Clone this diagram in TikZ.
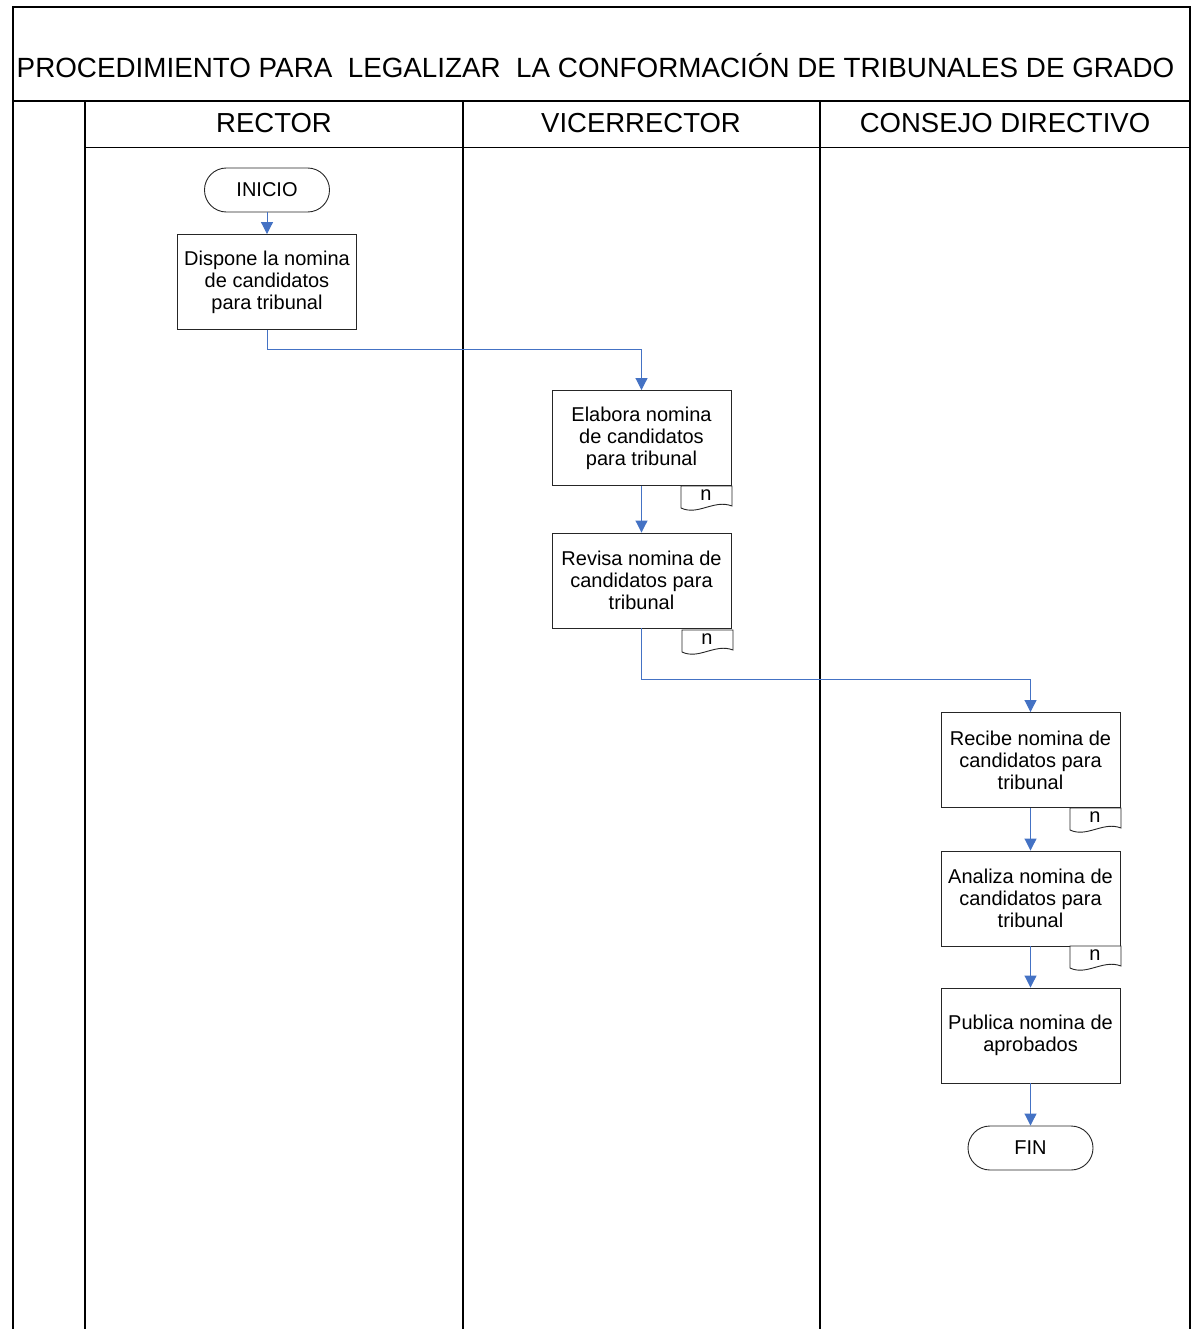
\documentclass[tikz,border=0pt]{standalone}
\usepackage{fontspec}
\setmainfont{Liberation Sans}
\usetikzlibrary{arrows.meta}
\definecolor{flowblue}{HTML}{4472C4}
\begin{document}
\begin{tikzpicture}[x=1pt,y=-1pt,
  lane/.style={line width=1.3pt, draw=black},
  proc/.style={draw=black!85, line width=0.9pt, minimum width=179pt, minimum height=95pt, align=center, font=\fontsize{20}{22}\selectfont, inner sep=2pt},
  term/.style={rectangle, rounded corners=21.9pt, draw=black!85, line width=0.9pt, minimum width=125pt, minimum height=44pt, font=\fontsize{20}{22}\selectfont},
  flow/.style={draw=flowblue, line width=1pt, -{Triangle[length=12pt,width=12pt]}},
  hdr/.style={font=\fontsize{27.5}{30}\selectfont, inner sep=0pt},
  docsym/.style={draw=black!85, line width=0.9pt, fill=white},
  docn/.pic={\draw[docsym] (0,0) -- (0,22) .. controls (17,30) and (33,13) .. (51,20) -- (51,0) -- cycle;
             \node[font=\fontsize{20}{22}\selectfont] (-t) at (25,9.5) {n};}
]
\useasboundingbox (0,0) rectangle (1193,1329);
% frame and lanes
\draw[lane] (13,1329) -- (13,7) -- (1190,7) -- (1190,1329);
\draw[lane] (13,101) -- (1190,101);
\draw[lane] (85,101) -- (85,1329);
\draw[lane] (463,101) -- (463,1329);
\draw[lane] (820,101) -- (820,1329);
\draw[line width=0.9pt] (85,147) -- (1190,147);
% titles
\node[hdr, font=\fontsize{27.8}{30}\selectfont] (title) at (595.5,66) {PROCEDIMIENTO PARA\ \ LEGALIZAR\ \ LA CONFORMACIÓN DE TRIBUNALES DE GRADO};
\node[hdr] (hrector) at (274,123) {RECTOR};
\node[hdr] (hvice) at (641,123) {VICERRECTOR};
\node[hdr] (hconsejo) at (1005,123) {CONSEJO DIRECTIVO};
% nodes
\node[term] (inicio) at (267,190) {INICIO};
\node[proc] (dispone) at (267,282) {Dispone la nomina\\de candidatos\\para tribunal};
\node[proc] (elabora) at (641.5,438) {Elabora nomina\\de candidatos\\para tribunal};
\node[proc] (revisa) at (641.5,580.5) {Revisa nomina de\\candidatos para\\tribunal};
\node[proc] (recibe) at (1030.5,760) {Recibe nomina de\\candidatos para\\tribunal};
\node[proc] (analiza) at (1030.5,898.5) {Analiza nomina de\\candidatos para\\tribunal};
\node[proc] (publica) at (1030.5,1035.5) {Publica nomina de\\aprobados};
\node[term] (fin) at (1030.5,1148) {FIN};
% document symbols
\pic (d1) at (681,486) {docn};
\pic (d2) at (682,630) {docn};
\pic (d3) at (1070,808) {docn};
\pic (d4) at (1070,946) {docn};
% connectors
\draw[flow] (inicio) -- (dispone);
\draw[flow] (dispone.south) -- ++(0,20) -| (elabora.north);
\draw[flow] (elabora) -- (revisa);
\draw[flow] (revisa.south) -- ++(0,51) -| (recibe.north);
\draw[flow] (recibe) -- (analiza);
\draw[flow] (analiza) -- (publica);
\draw[flow] (publica) -- (fin);
\end{tikzpicture}
\end{document}
